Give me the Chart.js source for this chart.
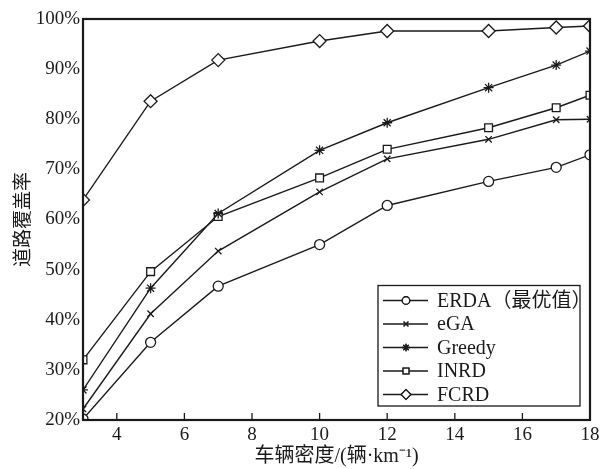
<!DOCTYPE html>
<html>
<head>
<meta charset="utf-8">
<script src="https://cdn.jsdelivr.net/npm/chart.js@4.4.0/dist/chart.umd.min.js"></script>
<style>
  html, body { margin: 0; padding: 0; background: #fff; }
  #wrap { width: 610px; height: 469px; position: relative; }
</style>
</head>
<body>
<div id="wrap"><canvas id="coverChart"></canvas></div>
<script>
// 车辆密度 (x)
const densities = [3, 5, 7, 10, 12, 15, 17, 18];
const xTickValues = [4, 6, 8, 10, 12, 14, 16, 18];
const yTickValues = [20, 30, 40, 50, 60, 70, 80, 90, 100];

// 道路覆盖率 (%)
const erdaValues   = [20.2, 35.5, 46.7, 55.0, 62.8, 67.6, 70.4, 72.9];
const egaValues    = [22.2, 41.2, 53.7, 65.5, 72.1, 76.0, 79.9, 80.0];
const greedyValues = [26.0, 46.3, 61.2, 73.8, 79.3, 86.3, 90.8, 93.6];
const inrdValues   = [32.0, 49.6, 60.6, 68.3, 74.0, 78.3, 82.3, 84.8];
const fcrdValues   = [63.9, 83.6, 91.8, 95.6, 97.6, 97.6, 98.3, 98.6];

const seriesNames = ['ERDA（最优值）', 'eGA', 'Greedy', 'INRD', 'FCRD'];
const seriesData = [erdaValues, egaValues, greedyValues, inrdValues, fcrdValues];
const seriesMarkers = ['circle', 'crossRot', 'star', 'rect', 'rectRot'];
const markerSizes = [5, 4.5, 5, 5.5, 6.5];

const INK = '#1a1a1a';
const SERIF = '"Liberation Serif", "Times New Roman", "Noto Sans CJK SC", serif';

function toPoints(values) {
    return values.map(function (v, i) { return { x: densities[i], y: v }; });
}

const datasets = seriesNames.map(function (name, i) {
    return {
        label: name,
        data: toPoints(seriesData[i]),
        borderColor: INK,
        borderWidth: 1.4,
        backgroundColor: '#fff',
        pointStyle: seriesMarkers[i],
        pointRadius: markerSizes[i],
        pointBorderColor: INK,
        pointBackgroundColor: '#fff',
        pointBorderWidth: 1.3,
        tension: 0
    };
});

// 外框、内向刻度、图例
const framePlugin = {
    id: 'frame',
    afterDraw: function (chart) {
        const ctx = chart.ctx;
        const area = chart.chartArea;
        const xScale = chart.scales.x;
        ctx.save();
        ctx.strokeStyle = INK;
        ctx.lineWidth = 2.2;
        ctx.strokeRect(area.left, area.top, area.right - area.left, area.bottom - area.top);

        ctx.lineWidth = 1.3;
        xTickValues.forEach(function (v) {
            const px = xScale.getPixelForValue(v);
            ctx.beginPath();
            ctx.moveTo(px, area.bottom);
            ctx.lineTo(px, area.bottom - 7);
            ctx.stroke();
        });

        // legend box
        const boxW = 202, rowH = 23.5;
        const boxH = rowH * seriesNames.length + 3;
        const bx = area.right - 10 - boxW;
        const by = area.bottom - 14 - boxH;
        ctx.fillStyle = '#fff';
        ctx.fillRect(bx, by, boxW, boxH);
        ctx.lineWidth = 1.3;
        ctx.strokeRect(bx, by, boxW, boxH);

        ctx.font = '20px ' + SERIF;
        ctx.textBaseline = 'middle';
        ctx.textAlign = 'left';
        seriesNames.forEach(function (name, i) {
            const cy = by + 15 + i * rowH;
            ctx.strokeStyle = INK;
            ctx.lineWidth = 1.3;
            ctx.beginPath();
            ctx.moveTo(bx + 5, cy);
            ctx.lineTo(bx + 50, cy);
            ctx.stroke();
            ctx.fillStyle = '#fff';
            Chart.helpers.drawPoint(ctx, {
                pointStyle: seriesMarkers[i],
                radius: markerSizes[i] * 0.75,
                borderWidth: 1.2
            }, bx + 28, cy);
            ctx.fill();
            ctx.stroke();
            ctx.fillStyle = INK;
            ctx.fillText(name, bx + 59, cy + 1);
        });
        ctx.restore();
    }
};

const chart = new Chart(document.getElementById('coverChart').getContext('2d'), {
    type: 'line',
    data: { datasets: datasets },
    options: {
        responsive: true,
        maintainAspectRatio: false,
        animation: false,
        layout: { padding: { top: 19, right: 20, left: 0, bottom: 0 } },
        plugins: {
            legend: { display: false },
            tooltip: { enabled: false }
        },
        scales: {
            x: {
                type: 'linear',
                min: 3,
                max: 18,
                afterBuildTicks: function (scale) {
                    scale.ticks = xTickValues.map(function (v) { return { value: v }; });
                },
                afterFit: function (scale) { scale.height = 49; },
                grid: { display: false, drawTicks: false },
                border: { display: false },
                ticks: {
                    color: INK,
                    padding: 4,
                    maxRotation: 0,
                    font: { family: SERIF, size: 19 }
                },
                title: {
                    display: true,
                    text: '车辆密度/(辆·km⁻¹)',
                    color: INK,
                    padding: { top: 0, bottom: 0 },
                    font: { family: SERIF, size: 20 }
                }
            },
            y: {
                min: 20,
                max: 100,
                afterBuildTicks: function (scale) {
                    scale.ticks = yTickValues.map(function (v) { return { value: v }; });
                },
                afterFit: function (scale) { scale.width = 83; },
                grid: { display: false, drawTicks: false },
                border: { display: false },
                ticks: {
                    color: INK,
                    padding: 3,
                    font: { family: SERIF, size: 19 },
                    callback: function (value) { return value + '%'; }
                },
                title: {
                    display: true,
                    text: '道路覆盖率',
                    color: INK,
                    padding: { top: 13, bottom: 0 },
                    font: { family: SERIF, size: 19 }
                }
            }
        }
    },
    plugins: [framePlugin]
});
</script>
</body>
</html>
